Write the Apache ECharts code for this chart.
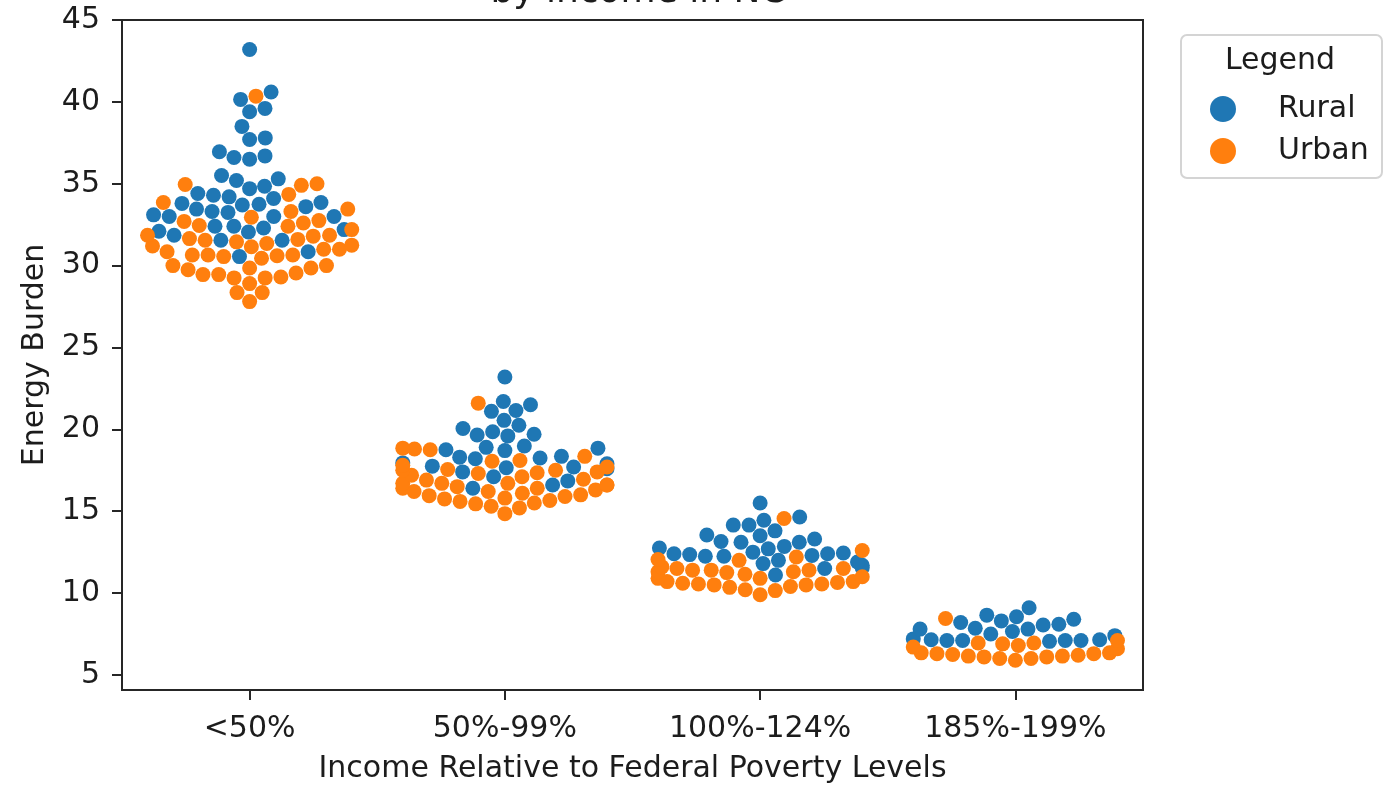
<!DOCTYPE html>
<html>
<head>
<meta charset="utf-8">
<script src="https://cdn.jsdelivr.net/npm/echarts@6/dist/echarts.min.js"></script>
<style>
  html, body { margin: 0; padding: 0; background: #ffffff; }
  #chart { width: 1383px; height: 785px; }
</style>
</head>
<body>
<div id="chart"></div>
<script>
// Income groups (x categories) and tick values for the energy-burden axis
const categories = ['<50%', '50%-99%', '100%-124%', '185%-199%'];
const yTicks = [5, 10, 15, 20, 25, 30, 35, 40, 45];

// Energy burden (%) per county, split by rural / urban, for each income group
const ruralLt50 = [43.2, 40.6, 40.15, 39.6, 39.4, 38.5, 37.8, 37.7, 36.95, 36.7, 36.6, 36.5,
  35.5, 35.3, 35.2, 34.85, 34.7, 34.4, 34.3, 34.2, 34.1, 33.85, 33.8, 33.75, 33.7, 33.6,
  33.45, 33.3, 33.25, 33.1, 33.0, 33.0, 33.0, 32.4, 32.4, 32.3, 32.2, 32.1, 32.05, 31.85,
  31.55, 31.55, 30.85, 30.55];
const urbanLt50 = [40.35, 35.0, 34.95, 34.9, 34.35, 33.85, 33.45, 33.3, 32.95, 32.75, 32.7,
  32.6, 32.45, 32.4, 32.2, 31.85, 31.85, 31.8, 31.65, 31.6, 31.55, 31.45, 31.35, 31.25, 31.2,
  31.15, 31.0, 31.0, 30.85, 30.65, 30.65, 30.65, 30.6, 30.55, 30.45, 30.0, 30.0, 29.85, 29.85,
  29.75, 29.55, 29.45, 29.45, 29.3, 29.25, 29.25, 28.9, 28.35, 28.35, 27.8];

const rural50to99 = [23.2, 21.7, 21.5, 21.15, 21.1, 20.55, 20.25, 20.05, 19.85, 19.7, 19.65,
  19.6, 18.98, 18.9, 18.85, 18.75, 18.7, 18.35, 18.3, 18.25, 18.2, 17.95, 17.9, 17.75, 17.7,
  17.65, 17.6, 17.4, 17.1, 16.85, 16.6, 16.4];
const urban50to99 = [21.6, 18.85, 18.8, 18.75, 18.35, 18.1, 18.05, 17.8, 17.7, 17.55, 17.5,
  17.5, 17.4, 17.35, 17.3, 17.2, 17.1, 16.95, 16.9, 16.7, 16.7, 16.7, 16.6, 16.6, 16.5, 16.4,
  16.4, 16.3, 16.2, 16.2, 16.1, 16.0, 15.95, 15.9, 15.8, 15.75, 15.65, 15.6, 15.5, 15.45,
  15.3, 15.2, 14.85];

const rural100to124 = [15.5, 14.65, 14.45, 14.15, 14.15, 13.8, 13.55, 13.5, 13.3, 13.15, 13.1,
  13.1, 12.85, 12.75, 12.7, 12.5, 12.45, 12.4, 12.4, 12.35, 12.3, 12.25, 12.25, 12.0, 11.9,
  11.8, 11.7, 11.55, 11.5, 11.1];
const urban100to124 = [14.55, 12.6, 12.2, 12.05, 12.0, 11.6, 11.5, 11.5, 11.4, 11.4, 11.4,
  11.3, 11.3, 11.25, 11.15, 11.0, 10.9, 10.9, 10.7, 10.7, 10.65, 10.6, 10.55, 10.55, 10.5,
  10.5, 10.4, 10.35, 10.2, 10.15, 9.9];

const rural185to199 = [9.1, 8.65, 8.55, 8.4, 8.3, 8.2, 8.1, 8.05, 7.85, 7.8, 7.8, 7.65, 7.5,
  7.4, 7.2, 7.15, 7.15, 7.1, 7.1, 7.1, 7.1, 7.05];
const urban185to199 = [8.45, 7.1, 6.95, 6.95, 6.9, 6.8, 6.7, 6.6, 6.35, 6.35, 6.3, 6.3, 6.25,
  6.2, 6.15, 6.15, 6.1, 6.1, 6.0, 6.0, 5.9];

const ruralGroups = [ruralLt50, rural50to99, rural100to124, rural185to199];
const urbanGroups = [urbanLt50, urban50to99, urban100to124, urban185to199];

const RURAL = '#1f77b4';
const URBAN = '#ff7f0e';
const FONT = 'DejaVu Sans';
const INK = '#1c1c1c';
const LINE = '#262626';
const FS = 30;           // label font size
const DOT = 15;          // marker diameter in px
const SWARM_WIDTH = 0.8; // swarm width as a share of one category

const chart = echarts.init(document.getElementById('chart'), null, { renderer: 'canvas' });

chart.setOption({
  animation: false,
  backgroundColor: '#ffffff',
  textStyle: { fontFamily: FONT, color: INK },
  grid: {
    left: 122, top: 20, right: 240, bottom: 95,
    outerBoundsMode: 'none',
    containLabel: false,
    show: true, borderColor: LINE, borderWidth: 2, backgroundColor: 'transparent'
  },
  legend: {
    orient: 'vertical',
    left: 1205, top: 85,
    itemWidth: 26, itemHeight: 26, itemGap: 4,
    icon: 'circle',
    textStyle: { fontFamily: FONT, fontSize: FS, color: INK, lineHeight: 26, padding: [0, 0, 12, 37] },
    data: ['Rural', 'Urban'],
    selectedMode: false
  },
  xAxis: [
    {
      type: 'category',
      data: categories,
      position: 'bottom',
      boundaryGap: true,
      axisLine: { show: true, onZero: false, lineStyle: { color: LINE, width: 2 } },
      axisTick: { show: true, alignWithLabel: true, length: 10, lineStyle: { color: LINE, width: 2 } },
      axisLabel: { fontFamily: FONT, fontSize: FS, color: INK, margin: 24 },
      splitLine: { show: false },
      name: 'Income Relative to Federal Poverty Levels',
      nameLocation: 'middle',
      nameGap: 64,
      nameTextStyle: { fontFamily: FONT, fontSize: FS, color: INK }
    },
    {
      type: 'value',
      min: -0.5, max: 3.5,
      show: false
    }
  ],
  yAxis: {
    type: 'value',
    min: 4.08, max: 45,
    axisLine: { show: true, onZero: false, lineStyle: { color: LINE, width: 2 } },
    axisTick: { show: true, length: 10, customValues: yTicks, lineStyle: { color: LINE, width: 2 } },
    axisLabel: { fontFamily: FONT, fontSize: FS, color: INK, margin: 22, customValues: yTicks },
    splitLine: { show: false },
    name: 'Energy Burden',
    nameLocation: 'middle',
    nameGap: 72,
    nameRotate: 90,
    nameTextStyle: { fontFamily: FONT, fontSize: FS, color: INK }
  },
  graphic: [
    {
      type: 'text', x: 638, y: -7,
      style: { text: 'by income in NC', fontFamily: FONT, fontSize: 36, fill: INK,
               align: 'center', verticalAlign: 'middle' }
    },
    {
      type: 'rect', x: 1181, y: 35, z: 0,
      shape: { width: 201, height: 143, r: 6 },
      style: { fill: '#ffffff', stroke: '#d4d4d4', lineWidth: 2 }
    },
    {
      type: 'text', x: 1280, y: 61, z: 1,
      style: { text: 'Legend', fontFamily: FONT, fontSize: FS, fill: INK,
               align: 'center', verticalAlign: 'middle' }
    }
  ],
  series: [
    { name: 'Rural', type: 'scatter', xAxisIndex: 1, data: [] },
    { name: 'Urban', type: 'scatter', xAxisIndex: 1, data: [] }
  ]
});

// Beeswarm layout in pixel space: points sorted by value, each placed at the
// candidate closest to the category centre that does not overlap its neighbours.
function swarmOffsets(points, centerPx, halfWidthPx) {
  const r = DOT / 2;
  const d2 = (2 * r) * (2 * r);
  const placed = [];
  points.forEach(p => {
    const neighbors = [];
    for (let k = placed.length - 1; k >= 0; k--) {
      const q = placed[k];
      if (Math.abs(p.py - q.py) < 2 * r) neighbors.push(q); else break;
    }
    const cands = [centerPx];
    neighbors.forEach(q => {
      const dy = p.py - q.py;
      const dx = Math.sqrt(Math.max(d2 - dy * dy, 0)) * 1.05;
      cands.push(q.px + dx, q.px - dx);
    });
    const order = cands.map((c, i) => ({ c, i, off: Math.abs(c - centerPx) }))
      .sort((a, b) => (a.off - b.off) || (a.i - b.i));
    let chosen = order[order.length - 1].c;
    for (const o of order) {
      let ok = true;
      for (const q of neighbors) {
        const dx = o.c - q.px, dy = p.py - q.py;
        if (dx * dx + dy * dy < d2 - 1e-6) { ok = false; break; }
      }
      if (ok) { chosen = o.c; break; }
    }
    placed.push({ px: chosen, py: p.py });
    // keep the swarm inside its slot
    p.px = Math.max(centerPx - halfWidthPx, Math.min(centerPx + halfWidthPx, chosen));
  });
}

const x0 = chart.convertToPixel({ xAxisIndex: 1 }, 0);
const x1 = chart.convertToPixel({ xAxisIndex: 1 }, 1);
const unitPx = x1 - x0;

const ruralData = [];
const urbanData = [];
categories.forEach((cat, ci) => {
  const pts = [];
  ruralGroups[ci].forEach(v => pts.push({ v, kind: 'Rural' }));
  urbanGroups[ci].forEach(v => pts.push({ v, kind: 'Urban' }));
  pts.sort((a, b) => a.v - b.v);
  pts.forEach(p => { p.py = chart.convertToPixel({ yAxisIndex: 0 }, p.v); });
  const centerPx = chart.convertToPixel({ xAxisIndex: 1 }, ci);
  swarmOffsets(pts, centerPx, unitPx * SWARM_WIDTH / 2);
  pts.forEach(p => {
    const xVal = ci + (p.px - centerPx) / unitPx;
    (p.kind === 'Rural' ? ruralData : urbanData).push([xVal, p.v]);
  });
});

chart.setOption({
  series: [
    { name: 'Rural', type: 'scatter', xAxisIndex: 1, data: ruralData, symbolSize: DOT,
      itemStyle: { color: RURAL, opacity: 1 }, silent: true },
    { name: 'Urban', type: 'scatter', xAxisIndex: 1, data: urbanData, symbolSize: DOT,
      itemStyle: { color: URBAN, opacity: 1 }, silent: true }
  ]
});
</script>
</body>
</html>
